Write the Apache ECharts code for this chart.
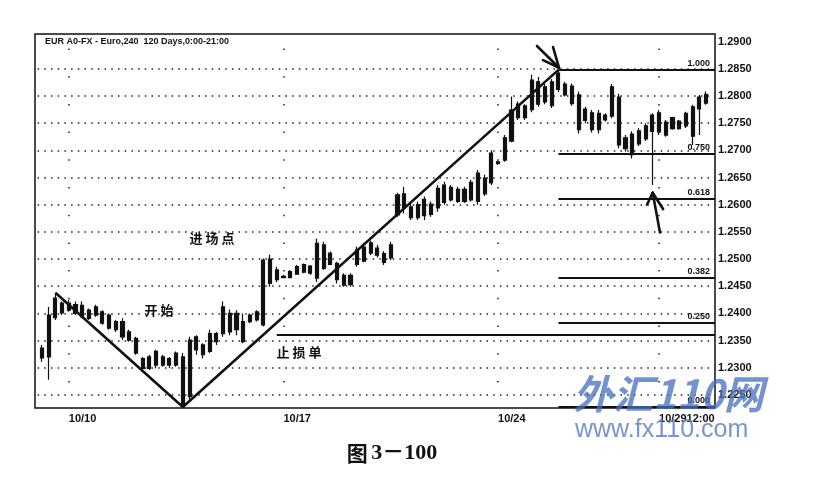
<!DOCTYPE html>
<html>
<head>
<meta charset="utf-8">
<script src="https://cdn.jsdelivr.net/npm/echarts@6/dist/echarts.min.js"></script>
<style>html,body{margin:0;padding:0;background:#fff;}#c{width:819px;height:489px;}</style>
</head>
<body>
<div id="c"></div>
<script>
// ---- data ----
// each row: [open, close, low, high], one per 240-minute bar
const candles = [
[1.2336,1.2318,1.2311,1.2342],[1.2320,1.2397,1.2278,1.2412],[1.2392,1.2428,1.2388,1.2438],[1.2419,1.2401,1.2397,1.2422],
[1.2406,1.2419,1.2403,1.2425],[1.2416,1.2400,1.2397,1.2422],[1.2394,1.2415,1.2391,1.2422],[1.2406,1.2391,1.2388,1.2409],
[1.2397,1.2412,1.2394,1.2416],[1.2403,1.2382,1.2379,1.2406],[1.2397,1.2373,1.2370,1.2400],[1.2370,1.2385,1.2366,1.2388],
[1.2385,1.2357,1.2351,1.2391],[1.2366,1.2351,1.2348,1.2370],[1.2354,1.2327,1.2324,1.2357],[1.2317,1.2299,1.2293,1.2320],
[1.2299,1.2320,1.2296,1.2324],[1.2305,1.2330,1.2299,1.2333],[1.2320,1.2305,1.2302,1.2324],[1.2305,1.2317,1.2299,1.2320],
[1.2305,1.2327,1.2302,1.2330],[1.2320,1.2232,1.2228,1.2327],[1.2247,1.2351,1.2241,1.2357],[1.2333,1.2357,1.2324,1.2360],
[1.2342,1.2324,1.2317,1.2345],[1.2330,1.2363,1.2327,1.2370],[1.2348,1.2363,1.2342,1.2366],[1.2363,1.2412,1.2357,1.2422],
[1.2400,1.2366,1.2360,1.2407],[1.2370,1.2400,1.2360,1.2406],[1.2385,1.2348,1.2345,1.2400],[1.2385,1.2397,1.2382,1.2400],
[1.2388,1.2403,1.2385,1.2406],[1.2379,1.2498,1.2376,1.2501],[1.2500,1.2455,1.2449,1.2508],[1.2462,1.2480,1.2458,1.2486],
[1.2468,1.2466,1.2465,1.2471],[1.2466,1.2477,1.2465,1.2480],[1.2472,1.2486,1.2471,1.2489],[1.2490,1.2476,1.2474,1.2492],
[1.2474,1.2487,1.2471,1.2489],[1.2465,1.2529,1.2458,1.2538],[1.2526,1.2483,1.2480,1.2532],[1.2511,1.2490,1.2489,1.2514],
[1.2492,1.2462,1.2455,1.2495],[1.2470,1.2452,1.2449,1.2474],[1.2453,1.2470,1.2449,1.2474],[1.2490,1.2517,1.2486,1.2523],
[1.2496,1.2522,1.2494,1.2530],[1.2511,1.2530,1.2507,1.2534],[1.2520,1.2507,1.2503,1.2526],[1.2510,1.2494,1.2489,1.2515],
[1.2502,1.2526,1.2498,1.2532],[1.2581,1.2618,1.2578,1.2622],[1.2620,1.2594,1.2584,1.2633],[1.2596,1.2576,1.2572,1.2603],
[1.2576,1.2600,1.2572,1.2606],[1.2580,1.2610,1.2572,1.2615],[1.2601,1.2582,1.2578,1.2606],[1.2594,1.2630,1.2587,1.2636],
[1.2636,1.2604,1.2600,1.2642],[1.2609,1.2632,1.2606,1.2636],[1.2628,1.2606,1.2603,1.2633],[1.2606,1.2628,1.2603,1.2633],
[1.2609,1.2641,1.2606,1.2646],[1.2606,1.2658,1.2600,1.2664],[1.2649,1.2620,1.2616,1.2655],[1.2640,1.2695,1.2636,1.2700],
[1.2679,1.2676,1.2673,1.2681],[1.2682,1.2723,1.2679,1.2728],[1.2717,1.2774,1.2715,1.2799],[1.2785,1.2760,1.2756,1.2790],
[1.2760,1.2782,1.2756,1.2785],[1.2775,1.2829,1.2770,1.2839],[1.2826,1.2785,1.2780,1.2835],[1.2789,1.2817,1.2785,1.2822],
[1.2782,1.2826,1.2778,1.2831],[1.2812,1.2842,1.2807,1.2848],[1.2822,1.2802,1.2799,1.2826],[1.2818,1.2786,1.2782,1.2823],
[1.2802,1.2738,1.2731,1.2808],[1.2755,1.2776,1.2750,1.2780],[1.2769,1.2738,1.2733,1.2774],[1.2738,1.2768,1.2731,1.2774],
[1.2756,1.2765,1.2753,1.2768],[1.2763,1.2817,1.2759,1.2822],[1.2798,1.2710,1.2704,1.2804],[1.2703,1.2723,1.2698,1.2728],
[1.2730,1.2692,1.2685,1.2735],[1.2712,1.2736,1.2708,1.2741],[1.2721,1.2745,1.2717,1.2750],[1.2735,1.2765,1.2636,1.2768],
[1.2734,1.2769,1.2728,1.2774],[1.2752,1.2728,1.2725,1.2756],[1.2740,1.2760,1.2738,1.2762],[1.2754,1.2740,1.2738,1.2756],
[1.2745,1.2768,1.2741,1.2771],[1.2726,1.2780,1.2710,1.2784],[1.2776,1.2798,1.2728,1.2802],[1.2803,1.2787,1.2784,1.2808]
];
const tickIdx = [4, 36, 68, 92];
const tickLabels = ['10/10', '10/17', '10/24', '10/2912:00'];
const priceTicks = [1.225,1.230,1.235,1.240,1.245,1.250,1.255,1.260,1.265,1.270,1.275,1.280,1.285,1.290];
const gridLevels = [1.225,1.230,1.235,1.240,1.245,1.250,1.255,1.260,1.265,1.270,1.275,1.280,1.285];
// trendline pivots: [bar index, price]
const trendPts = [[2, 1.2438], [21, 1.2228], [77, 1.2848]];
const fibLow = 1.2228, fibHigh = 1.2848, fibStart = 77;
const fibRatios = [1.000, 0.750, 0.618, 0.382, 0.250, 0.000];
const stopPrice = 1.2360, stopStart = 35;
// hand-drawn arrows, as segments in [bar index, price]
const arrowSegs = [
  [[73.8, 1.2892], [77.08, 1.2852]], [[74.7, 1.2866], [77.08, 1.2852]], [[76.2, 1.2890], [77.08, 1.2852]],
  [[92.14, 1.2549], [91.05, 1.2622]], [[90.2, 1.2600], [91.05, 1.2622]], [[92.6, 1.2592], [91.05, 1.2622]]
];

const xMin = -1.044, xMax = 100.343;
const ink = '#111';
const hDot = {color: '#222', width: 1.5, type: [1.5, 5.2], dashOffset: 4.1};
const vDot = {color: '#222', width: 1.5, type: [1.5, 26.2], dashOffset: 2.1};

const mlData = [];
gridLevels.forEach(v => mlData.push([{coord: [xMin, v], lineStyle: hDot}, {coord: [xMax, v]}]));
tickIdx.forEach(i => mlData.push({xAxis: i, lineStyle: vDot}));
fibRatios.forEach(r => {
  const lvl = fibLow + r * (fibHigh - fibLow);
  mlData.push([
    {coord: [fibStart, lvl], lineStyle: {color: ink, width: 2, type: 'solid'},
     label: {show: true, position: 'insideEndTop', formatter: r.toFixed(3), distance: [5, 2],
             fontSize: 9, fontWeight: 'bold', fontFamily: 'Liberation Sans', color: ink}},
    {coord: [xMax, lvl]}
  ]);
});
mlData.push([{coord: [stopStart, stopPrice], lineStyle: {color: ink, width: 2.2, type: 'solid'}}, {coord: [xMax, stopPrice]}]);
arrowSegs.forEach(s => mlData.push([{coord: s[0], lineStyle: {color: ink, width: 2.6, type: 'solid', cap: 'round'}}, {coord: s[1]}]));

const chart = echarts.init(document.getElementById('c'), null, {renderer: 'canvas'});
chart.setOption({
  animation: false,
  backgroundColor: '#fff',
  title: {
    text: 'EUR A0-FX - Euro,240  120 Days,0:00-21:00', left: 45, top: 37, padding: 0,
    textStyle: {fontSize: 9, fontWeight: 'bold', fontFamily: 'Liberation Sans', color: ink}
  },
  grid: {left: 35, right: 104, top: 34, bottom: 81, show: true, borderColor: ink, borderWidth: 1.5, backgroundColor: 'transparent'},
  xAxis: {
    type: 'value', min: xMin, max: xMax,
    axisLine: {show: false}, axisTick: {show: false}, splitLine: {show: false},
    axisLabel: {
      customValues: tickIdx, align: 'left', margin: 5,
      formatter: v => { const k = tickIdx.indexOf(Math.round(v)); return k >= 0 ? tickLabels[k] : ''; },
      fontSize: 11, fontWeight: 'bold', fontFamily: 'Liberation Sans', color: ink
    }
  },
  yAxis: {
    type: 'value', position: 'right', min: 1.2226, max: 1.2914, scale: true,
    axisLine: {show: false}, axisTick: {show: false}, splitLine: {show: false},
    axisLabel: {
      customValues: priceTicks, margin: 3, formatter: v => v.toFixed(4),
      fontSize: 11, fontWeight: 'bold', fontFamily: 'Liberation Sans', color: ink
    }
  },
  series: [
    {
      type: 'candlestick', barWidth: 3.6, z: 3,
      data: candles.map((r, i) => [i, r[0], r[1], r[2], r[3]]),
      itemStyle: {color: ink, color0: ink, borderColor: ink, borderColor0: ink, borderWidth: 1.2}
    },
    {
      type: 'line', z: 4, data: trendPts, symbol: 'none', silent: true,
      lineStyle: {color: ink, width: 2.6},
      markLine: {silent: true, symbol: 'none', animation: false, label: {show: false}, data: mlData}
    }
  ],
  graphic: [
    {type: 'text', style: {x: 212, y: 238, text: '进 场 点', align: 'center', verticalAlign: 'middle',
      font: 'bold 13px "Noto Sans CJK SC"', fill: ink}},
    {type: 'text', style: {x: 159, y: 310, text: '开 始', align: 'center', verticalAlign: 'middle',
      font: 'bold 13px "Noto Sans CJK SC"', fill: ink}},
    {type: 'text', style: {x: 299, y: 352, text: '止 损 单', align: 'center', verticalAlign: 'middle',
      font: 'bold 13px "Noto Sans CJK SC"', fill: ink}},
    {type: 'text', style: {x: 392, y: 453, text: '{c|图} {n|3－100}', align: 'center', verticalAlign: 'middle',
      rich: {c: {fontSize: 21, fontWeight: 'bold', fontFamily: 'Noto Sans CJK SC', fill: ink},
             n: {fontSize: 22, fontWeight: 'bold', fontFamily: 'Liberation Serif, Noto Sans CJK SC', fill: ink}}}},
    {type: 'text', z: 100, style: {x: 573, y: 394, text: '外汇110网', align: 'left', verticalAlign: 'middle',
      font: 'italic bold 40px "Noto Sans CJK SC"', fill: 'rgba(70,110,190,0.75)'}},
    {type: 'text', z: 100, style: {x: 575, y: 430, text: 'www.fx110.com', align: 'left', verticalAlign: 'middle',
      font: '25px "Liberation Sans"', fill: 'rgba(95,130,200,0.85)'}}
  ]
});
</script>
</body>
</html>
